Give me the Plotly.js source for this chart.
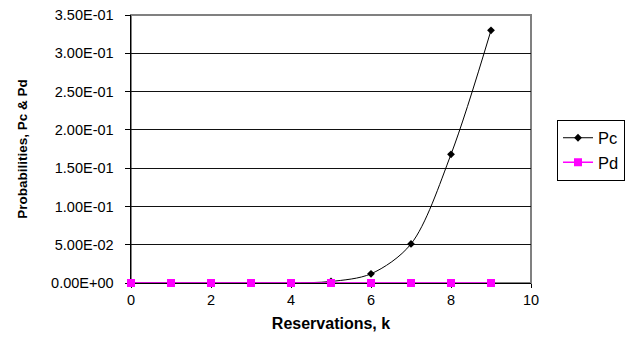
<!DOCTYPE html>
<html>
<head>
<meta charset="utf-8">
<script src="https://cdn.plot.ly/plotly-3.0.1.min.js"></script>
<style>
  html, body { margin: 0; padding: 0; background: #fff; }
  #chart { width: 637px; height: 340px; }
</style>
</head>
<body>
<div id="chart"></div>
<script>
// Number of reservations k
const reservations = [0, 1, 2, 3, 4, 5, 6, 7, 8, 9];
// Probabilities per k
const pc = [0, 0, 0, 0, 0.0001, 0.002, 0.012, 0.051, 0.168, 0.330];
const pd = [0, 0, 0, 0, 0, 0, 0, 0, 0, 0];
// Axis ticks
const yTickValues = [0, 0.05, 0.10, 0.15, 0.20, 0.25, 0.30, 0.35];
const xTickValues = [0, 2, 4, 6, 8, 10];

// Scientific labels in the 0.00E+00 style
function sci(v) {
  if (v === 0) return '0.00E+00';
  const [m, e] = v.toExponential(2).split('e');
  const n = parseInt(e, 10);
  const sign = n < 0 ? '-' : '+';
  return m + 'E' + sign + String(Math.abs(n)).padStart(2, '0');
}
const yTickLabels = yTickValues.map(sci);

const FONT = '"Liberation Sans", Arial, sans-serif';

const traces = [
  {
    x: reservations, y: pc, name: 'Pc', type: 'scatter', mode: 'lines+markers',
    cliponaxis: false,
    line: { color: '#000000', width: 1, shape: 'spline', smoothing: 0.9 },
    marker: { symbol: 'diamond', size: 6, color: '#000000' }
  },
  {
    x: reservations, y: pd, name: 'Pd', type: 'scatter', mode: 'lines+markers',
    cliponaxis: false,
    line: { color: '#FF00FF', width: 1.6 },
    marker: { symbol: 'square', size: 8, color: '#FF00FF' }
  }
];

const layout = {
  width: 637, height: 340,
  margin: { l: 131, r: 104, t: 15, b: 57, pad: 0 },
  paper_bgcolor: '#ffffff', plot_bgcolor: '#ffffff',
  font: { family: FONT, size: 14.5, color: '#000000' },
  showlegend: true,
  legend: {
    x: 1.065, y: 0.61, xanchor: 'left', yanchor: 'top',
    bordercolor: '#000000', borderwidth: 1, bgcolor: '#ffffff',
    font: { family: FONT, size: 16.5, color: '#000000' },
    tracegroupgap: 0, itemwidth: 30
  },
  xaxis: {
    range: [0, 10], tickvals: xTickValues, ticktext: xTickValues.map(String),
    showgrid: false, zeroline: false, layer: 'below traces',
    showline: true, linecolor: '#000000', linewidth: 1,
    ticks: 'outside', ticklen: 4, tickcolor: '#000000', tickwidth: 1,
    tickfont: { family: FONT, size: 14.5 },
    title: { text: '<b>Reservations, k</b>', font: { family: FONT, size: 16 }, standoff: 10 },
    automargin: false
  },
  yaxis: {
    range: [0, 0.35], tickvals: yTickValues, ticktext: yTickLabels,
    showgrid: true, gridcolor: '#111111', gridwidth: 1,
    zeroline: false, layer: 'below traces',
    showline: true, linecolor: '#000000', linewidth: 1.5,
    ticks: 'outside', ticklen: 5, tickcolor: '#000000', tickwidth: 1,
    tickfont: { family: FONT, size: 14.5 },
    ticklabelstandoff: 8,
    title: { text: '<b>Probabilities, Pc &amp; Pd</b>', font: { family: FONT, size: 13.5 }, standoff: 20 },
    automargin: false
  },
  shapes: [
    {
      type: 'rect', xref: 'paper', yref: 'paper', x0: 0, x1: 1, y0: 0, y1: 1,
      line: { color: '#808080', width: 2 }, layer: 'below'
    }
  ]
};

Plotly.newPlot('chart', traces, layout, { staticPlot: true, displayModeBar: false });
</script>
</body>
</html>
